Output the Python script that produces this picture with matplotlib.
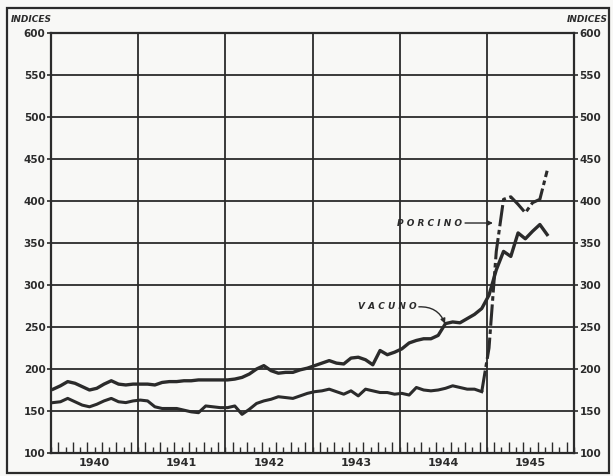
import matplotlib
matplotlib.use("Agg")
import matplotlib.pyplot as plt
import numpy as np
from matplotlib.patches import Rectangle
import matplotlib.transforms as mtransforms

# ---- data (monthly index values, Jan 1940 .. Sep 1945) ----
start_year = 1940
vacuno = [176, 180, 185, 183, 179, 175, 177, 182, 186, 182, 181, 182,
          182, 182, 181, 184, 185, 185, 186, 186, 187, 187, 187, 187,
          187, 188, 190, 194, 200, 204, 198, 195, 196, 196, 199, 201,
          204, 207, 210, 207, 206, 213, 214, 211, 205, 222, 217, 220,
          224, 231, 234, 236, 236, 240, 254, 256, 255, 260, 265, 272,
          288, 318, 340, 334, 362, 355, 364, 372, 360]
porcino = [160, 161, 165, 161, 157, 155, 158, 162, 165, 161, 160, 162,
           163, 162, 155, 153, 153, 153, 151, 149, 148, 156, 155, 154,
           154, 156, 146, 152, 159, 162, 164, 167, 166, 165, 168, 171,
           173, 174, 176, 173, 170, 174, 168, 176, 174, 172, 172, 170,
           171, 169, 178, 175, 174, 175, 177, 180, 178, 176, 176, 173,
           225, 340, 402, 405, 396, 386, 398, 402, 436]
years = [1940, 1941, 1942, 1943, 1944, 1945]
y_ticks = [100, 150, 200, 250, 300, 350, 400, 450, 500, 550, 600]
y_label = "INDICES"
label_vacuno = "V A C U N O"
label_porcino = "P O R C I N O"

ink = "#2b2b2b"
paper = "#f8f8f6"

fig = plt.figure(figsize=(6.13, 4.76), dpi=100, facecolor=paper)
ax = fig.add_axes([51/613, 1-453/476, (574-51)/613, (453-33)/476], facecolor=paper)

x_v = start_year + (np.arange(len(vacuno)) + 0.3) / 12
x_p = start_year + (np.arange(len(porcino)) + 0.3) / 12

ax.set_xlim(start_year, start_year + len(years))
ax.set_ylim(y_ticks[0], y_ticks[-1])

# grid
for yy in y_ticks[1:-1]:
    ax.axhline(yy, color=ink, lw=1.3, zorder=1)
for yr in years[1:]:
    ax.axvline(yr, color=ink, lw=1.3, zorder=1)

# series
ax.plot(x_v, vacuno, color=ink, lw=2.4, solid_joinstyle="round", zorder=3)
split = 59
ax.plot(x_p[:split + 1], porcino[:split + 1], color=ink, lw=2.2,
        solid_joinstyle="round", zorder=3)
ax.plot(x_p[split:], porcino[split:], color=ink, lw=2.2,
        linestyle=(0, (7, 1.2, 1.5, 1.2)), zorder=3)

# spines
for s in ax.spines.values():
    s.set_linewidth(1.6)
    s.set_color(ink)

# y ticks on both sides
ax.set_yticks(y_ticks)
ax.yaxis.set_ticks_position("both")
ax.tick_params(axis="y", which="both", direction="out", length=3, width=1.2,
               color=ink, labelsize=7.5, labelcolor=ink, pad=1,
               labelleft=True, labelright=True)
for lab in ax.get_yticklabels():
    lab.set_fontweight("bold")

# x ticks: monthly, alternating length, pointing inside
months = start_year + np.arange(0, 12 * len(years) + 1) / 12
ax.set_xticks(months[1::2])
ax.set_xticks(months, minor=True)
ax.tick_params(axis="x", which="major", direction="in", length=8, width=1.0,
               color=ink, labelbottom=False)
ax.tick_params(axis="x", which="minor", direction="in", length=4, width=1.0,
               color=ink)

for yr in years:
    ax.text(yr + 0.5, -0.013, str(yr), transform=mtransforms.blended_transform_factory(ax.transData, ax.transAxes),
            ha="center", va="top", fontsize=8, fontweight="bold", color=ink)

# INDICES labels
fig.text(11/613, 1-19/476, y_label, ha="left", va="center", fontsize=6.5,
         fontweight="bold", fontstyle="italic", color=ink)
fig.text(608/613, 1-19/476, y_label, ha="right", va="center", fontsize=6.5,
         fontweight="bold", fontstyle="italic", color=ink)

# annotations
ax.annotate("", xy=(1945.07, 373.8), xytext=(1944.75, 373.8),
            arrowprops=dict(arrowstyle="-|>", color=ink, lw=1.0,
                            mutation_scale=7, shrinkA=0, shrinkB=0))
ax.text(1944.72, 373.8, label_porcino, ha="right", va="center", fontsize=6.5,
        fontweight="bold", fontstyle="italic", color=ink)
ax.annotate("", xy=(1944.52, 254), xytext=(1944.22, 274),
            arrowprops=dict(arrowstyle="-|>", color=ink, lw=1.0,
                            mutation_scale=7, shrinkA=0, shrinkB=0,
                            connectionstyle="arc3,rad=-0.35"))
ax.text(1944.2, 274, label_vacuno, ha="right", va="center", fontsize=6.5,
        fontweight="bold", fontstyle="italic", color=ink)

# outer frame
fig.patches.append(Rectangle((7/613, 3/476), (609-7)/613, (468-3)/476,
                             transform=fig.transFigure, fill=False,
                             edgecolor=ink, lw=1.6))

fig.savefig("out.png", dpi=100, facecolor=paper)
